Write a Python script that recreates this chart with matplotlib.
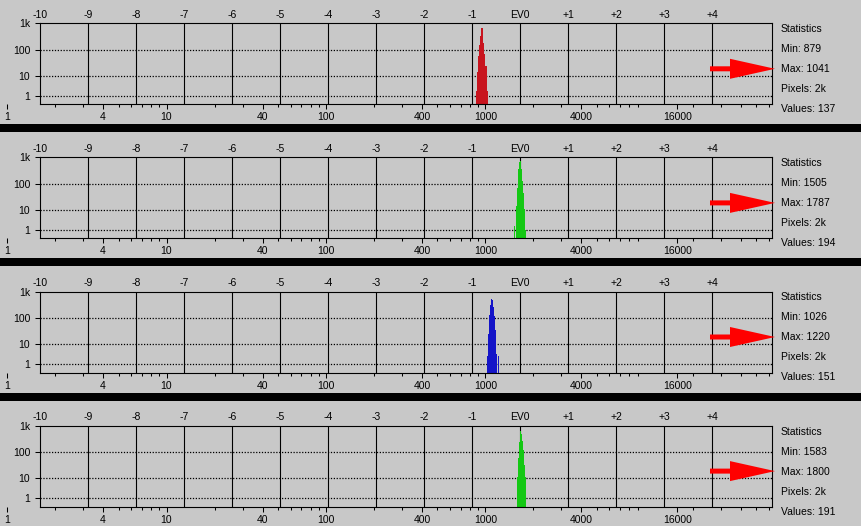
import numpy as np
import matplotlib
matplotlib.use('Agg')
import matplotlib.pyplot as plt
from matplotlib.patches import Polygon, Rectangle
from matplotlib.ticker import FixedLocator, NullLocator

plt.rcParams['font.family'] = ['Liberation Sans', 'DejaVu Sans']
plt.rcParams['font.size'] = 7.5

# histogram data, one bin per screen column (bin edges are pixel values)
red_edges = [879, 892, 905, 918, 931, 945, 959, 972, 987, 1001, 1016, 1030, 1045]
red_counts = [2, 15, 60, 150, 350, 650, 420, 180, 70, 25, 8, 2]

green_edges = [1505, 1527, 1549, 1571, 1594, 1617, 1641, 1665, 1689, 1713, 1738, 1763, 1789]
green_counts = [2, 0, 15, 75, 360, 670, 735, 360, 134, 48, 11, 1]

blue_edges = [1026, 1041, 1056, 1071, 1087, 1103, 1119, 1135, 1152, 1168, 1185, 1203, 1220]
blue_counts = [3, 25, 130, 320, 520, 480, 260, 120, 35, 4, 0, 3]

green2_edges = [1583, 1606, 1629, 1653, 1677, 1701, 1726, 1751, 1776, 1802]
green2_counts = [12, 60, 250, 650, 480, 260, 120, 35, 12]

stat_min = [879, 1505, 1026, 1583]
stat_max = [1041, 1787, 1220, 1800]
stat_pixels = ['2k', '2k', '2k', '2k']
stat_values = [137, 194, 151, 191]

ev_steps = list(range(-10, 5))
ev_labels = ['-10', '-9', '-8', '-7', '-6', '-5', '-4', '-3', '-2', '-1',
             'EV0', '+1', '+2', '+3', '+4']
y_ticks = [1, 10, 100, 1000]
y_tick_labels = ['1', '10', '100', '1k']
scale_ticks = [1, 4, 10, 40, 100, 400, 1000, 4000, 16000]

ev0 = 1648  # pixel value at EV0

BG = '#c8c8c8'
W, H = 862, 526
box_left, box_right = 40, 772
ev_px = 48  # screen pixels per EV step


def fx(x):
    return x / W


def fy(y):
    return 1 - y / H


def fwd(c):
    return np.log10(1 + np.clip(c, 0, None))


def inv(y):
    return 10 ** y - 1


xlo = ev0 / 2 ** 10
xhi = xlo * 2 ** ((box_right - box_left) / ev_px)
scale_left = box_left - ev_px * np.log2(xlo)


def draw_panel(fig, i, edges, counts, color):
    top = 23.3 + 134.1 * i
    bh = 81

    # axis with the raw value scale, reaching left of the box
    sax = fig.add_axes([fx(scale_left), fy(top + bh), (box_right - scale_left) / W, bh / H])
    sax.set_frame_on(False)
    sax.patch.set_visible(False)
    sax.set_xscale('log')
    sax.set_xlim(1, xhi)
    sax.set_yticks([])
    sax.xaxis.set_major_locator(FixedLocator(scale_ticks))
    sax.set_xticklabels([str(t) for t in scale_ticks])
    minor = [m * 10 ** e for e in range(5) for m in range(2, 10)]
    sax.xaxis.set_minor_locator(FixedLocator(minor))
    sax.tick_params(axis='x', which='major', length=3.6, width=0.75, pad=2.2)
    sax.tick_params(axis='x', which='minor', length=2.2, width=0.75)

    ax = fig.add_axes([fx(box_left), fy(top + bh), (box_right - box_left) / W, bh / H])
    ax.set_facecolor(BG)
    ax.set_xscale('log')
    ax.set_xlim(xlo, xhi)
    ax.set_yscale('function', functions=(fwd, inv))
    ax.set_ylim(0, 1000)

    for v in [1, 10, 100]:
        ax.axhline(v, color='black', lw=0.9, ls=(0, (1, 1.3)), zorder=1)
    for k in ev_steps[1:]:
        ax.axvline(ev0 * 2.0 ** k, color='black', lw=0.8, zorder=1)

    ax.stairs(counts, edges, fill=True, color=color, zorder=2)

    ax.xaxis.tick_top()
    ax.set_xticks([ev0 * 2.0 ** k for k in ev_steps])
    ax.set_xticklabels(ev_labels)
    ax.xaxis.set_minor_locator(NullLocator())
    ax.tick_params(axis='x', length=0, pad=2.5)

    ax.set_yticks(y_ticks)
    ax.set_yticklabels(y_tick_labels)
    ax.yaxis.set_minor_locator(NullLocator())
    ax.tick_params(axis='y', length=3.6, width=0.75, pad=3.5)
    for s in ax.spines.values():
        s.set_linewidth(0.8)

    # statistics block
    rows = ['Statistics', 'Min: %d' % stat_min[i], 'Max: %d' % stat_max[i],
            'Pixels: %s' % stat_pixels[i], 'Values: %d' % stat_values[i]]
    for j, r in enumerate(rows):
        fig.text(fx(781), fy(top + 6 + 20 * j), r, ha='left', va='center')

    # red arrow pointing at the max line
    c = top + 45.5
    pts = [(710, c - 2.5), (730, c - 2.5), (730, c - 10), (775, c),
           (730, c + 10), (730, c + 2.5), (710, c + 2.5)]
    fig.add_artist(Polygon([(fx(x), fy(y)) for x, y in pts], closed=True,
                           transform=fig.transFigure, color='#ff0000', lw=0))

    # black separator under the panel
    if i < 3:
        fig.add_artist(Rectangle((0, fy(top + 109)), 1, 8 / H,
                                 transform=fig.transFigure, color='black', lw=0))


fig = plt.figure(figsize=(W / 100, H / 100), dpi=100, facecolor=BG)

draw_panel(fig, 0, red_edges, red_counts, '#c8141e')
draw_panel(fig, 1, green_edges, green_counts, '#14c814')
draw_panel(fig, 2, blue_edges, blue_counts, '#1414c8')
draw_panel(fig, 3, green2_edges, green2_counts, '#14c814')

fig.savefig('out.png', dpi=100, facecolor=BG)
